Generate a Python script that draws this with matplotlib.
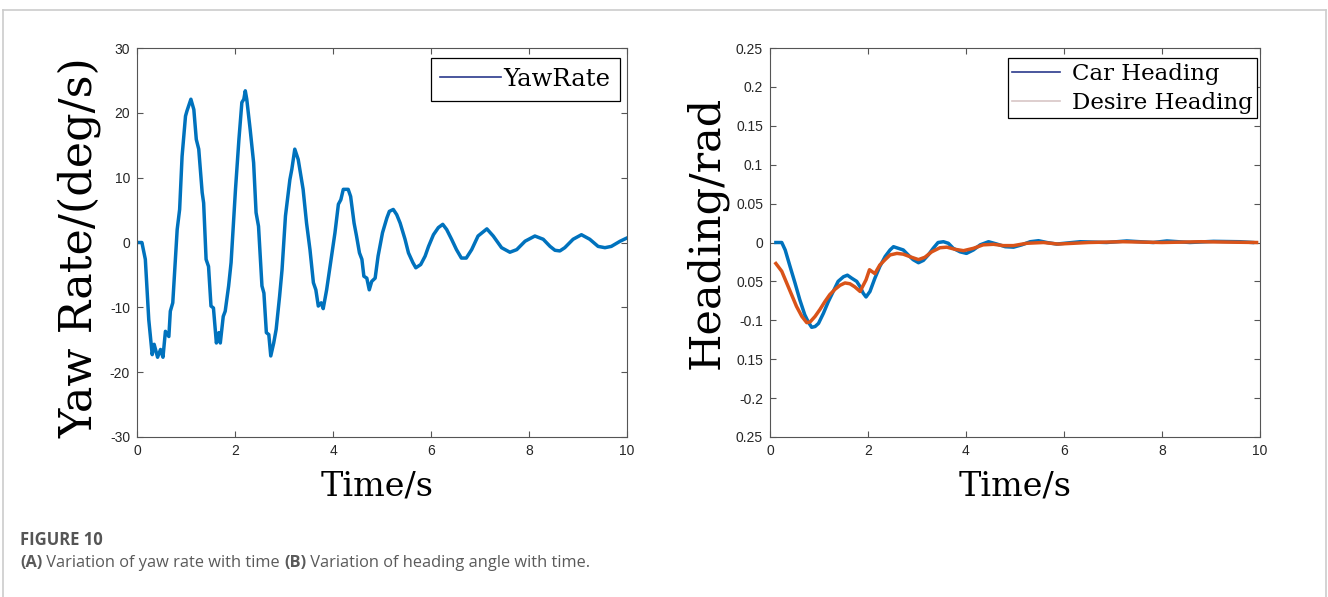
import matplotlib
matplotlib.use("Agg")
import matplotlib.pyplot as plt
from matplotlib.lines import Line2D

plt.rcParams['axes.unicode_minus'] = False

# (A) yaw rate
yaw_t = [0, 0.1, 0.14, 0.17, 0.24, 0.31, 0.35, 0.42, 0.48, 0.53, 0.58, 0.65, 0.68, 0.73,
         0.82, 0.87, 0.92, 0.99, 1.02, 1.10, 1.16, 1.21, 1.26, 1.33, 1.36, 1.41, 1.46, 1.51,
         1.56, 1.62, 1.67, 1.70, 1.76, 1.80, 1.87, 1.92, 2.01, 2.08, 2.14, 2.18, 2.21, 2.24,
         2.31, 2.38, 2.43, 2.48, 2.55, 2.59, 2.64, 2.69, 2.73, 2.79, 2.84, 2.91, 2.96, 3.03,
         3.12, 3.16, 3.22, 3.29, 3.39, 3.46, 3.53, 3.60, 3.65, 3.70, 3.76, 3.80, 3.87, 3.94,
         4.04, 4.11, 4.16, 4.21, 4.31, 4.36, 4.43, 4.48, 4.54, 4.59, 4.63, 4.69, 4.74, 4.79,
         4.86, 4.92, 5.01, 5.10, 5.15, 5.23, 5.30, 5.37, 5.47, 5.54, 5.63, 5.69, 5.79, 5.88,
         5.95, 6.05, 6.15, 6.24, 6.32, 6.42, 6.52, 6.62, 6.72, 6.83, 6.96, 7.14, 7.27, 7.44,
         7.61, 7.75, 7.92, 8.12, 8.29, 8.43, 8.53, 8.63, 8.73, 8.90, 9.07, 9.24, 9.41, 9.55,
         9.68, 9.86, 10.0]
yaw_rate = [0, 0, -1.5, -2.6, -11.9, -17.3, -15.7, -17.7, -16.5, -17.7, -13.7, -14.5, -10.6, -9.3,
            2.0, 5.1, 13.3, 19.5, 20.3, 22.1, 20.5, 15.9, 14.4, 7.7, 6.1, -2.6, -3.7, -9.8,
            -10.1, -15.5, -13.9, -15.5, -11.4, -10.6, -6.7, -3.1, 8.2, 15.9, 21.6, 22.1, 23.4, 22.1,
            17.4, 12.3, 4.6, 2.5, -6.7, -7.8, -13.9, -14.2, -17.5, -15.5, -13.4, -8.3, -4.2, 4.1,
            9.7, 11.3, 14.4, 12.8, 8.2, 3.0, -1.1, -6.2, -7.3, -9.8, -9.3, -10.2, -7.3, -3.7,
            1.5, 5.9, 6.6, 8.2, 8.2, 7.1, 3.0, 1.0, -1.6, -2.6, -5.2, -5.5, -7.3, -6.0,
            -5.5, -2.1, 1.5, 3.8, 4.8, 5.1, 4.3, 3.0, 0.5, -1.6, -3.1, -3.9, -3.4, -2.1,
            -0.6, 1.2, 2.3, 2.8, 2.0, 0.5, -1.1, -2.4, -2.4, -1.1, 1.0, 2.1, 1.0, -0.8,
            -1.5, -1.1, 0.2, 1.0, 0.5, -0.6, -1.2, -1.3, -0.8, 0.5, 1.2, 0.5, -0.6, -0.8,
            -0.6, 0.2, 0.7]

# (B) heading
car_t = [0.12, 0.24, 0.31, 0.41, 0.51, 0.61, 0.71, 0.78, 0.85, 0.92, 0.99, 1.09, 1.19, 1.29,
         1.39, 1.50, 1.58, 1.67, 1.77, 1.84, 1.90, 1.96, 2.04, 2.14, 2.24, 2.35, 2.45, 2.52,
         2.62, 2.72, 2.82, 2.92, 3.03, 3.13, 3.23, 3.33, 3.43, 3.54, 3.64, 3.74, 3.88, 4.01,
         4.15, 4.29, 4.46, 4.63, 4.80, 4.97, 5.14, 5.31, 5.48, 5.65, 5.85, 6.33, 6.87, 7.28,
         7.82, 8.10, 8.57, 9.05, 9.59, 9.85]
car_heading = [0.0, 0.0, -0.0096, -0.031, -0.052, -0.074, -0.093, -0.102, -0.109, -0.108, -0.104,
               -0.091, -0.076, -0.063, -0.050, -0.044, -0.042, -0.046, -0.050, -0.057, -0.065,
               -0.070, -0.063, -0.046, -0.031, -0.018, -0.0096, -0.0054, -0.0075, -0.0096, -0.016,
               -0.022, -0.026, -0.023, -0.016, -0.0075, 0.0, 0.001, -0.001, -0.0075, -0.012,
               -0.014, -0.0096, -0.003, 0.001, -0.002, -0.0054, -0.006, -0.003, 0.001, 0.0023,
               0.0, -0.002, 0.001, 0.0, 0.002, 0.0, 0.002, 0.0, 0.0015, 0.001, 0.0]
desire_t = [0.12, 0.24, 0.34, 0.44, 0.54, 0.65, 0.75, 0.82, 0.92, 1.02, 1.12, 1.22, 1.33, 1.43,
            1.53, 1.63, 1.73, 1.84, 1.87, 1.96, 2.03, 2.14, 2.24, 2.35, 2.45, 2.59, 2.72, 2.89,
            3.03, 3.16, 3.30, 3.47, 3.61, 3.78, 3.95, 4.15, 4.35, 4.56, 4.76, 4.97, 5.24, 5.58,
            5.88, 6.5, 7.2, 8.0, 8.8, 9.93]
desire_heading = [-0.027, -0.037, -0.052, -0.067, -0.082, -0.095, -0.103, -0.102, -0.095, -0.086,
                  -0.076, -0.067, -0.060, -0.055, -0.052, -0.053, -0.057, -0.063, -0.059, -0.048,
                  -0.035, -0.040, -0.029, -0.022, -0.016, -0.014, -0.015, -0.019, -0.022, -0.019,
                  -0.012, -0.0067, -0.006, -0.0088, -0.0105, -0.0075, -0.003, -0.0023, -0.004,
                  -0.004, -0.001, 0.0, -0.002, 0.0, 0.001, 0.0, 0.001, 0.0]

x_ticks = [0, 2, 4, 6, 8, 10]
yaw_ticks = [-30, -20, -10, 0, 10, 20, 30]
head_ticks = [-0.25, -0.2, -0.15, -0.1, -0.05, 0, 0.05, 0.1, 0.15, 0.2, 0.25]
head_tick_labels = ['0.25', '-0.2', '0.15', '-0.1', '0.05', '0', '0.05', '0.1', '0.15', '0.2', '0.25']

BLUE = '#0072BD'
ORANGE = '#D95319'
serif = 'DejaVu Serif'

fig = plt.figure(figsize=(13.28, 5.97), dpi=100)


def style_axes(ax):
    for s in ax.spines.values():
        s.set_color('#555555')
        s.set_linewidth(0.8)
    ax.tick_params(direction='in', length=4, width=0.8, color='#555555',
                   top=True, right=True, labelsize=10, labelcolor='#262626', pad=5)
    for lab in ax.get_xticklabels() + ax.get_yticklabels():
        lab.set_family('Liberation Sans')


# left panel
ax1 = fig.add_axes([137 / 1328, 160 / 597, 490 / 1328, 389 / 597])
ax1.plot(yaw_t, yaw_rate, color=BLUE, lw=2.5)
ax1.set_xlim(0, 10)
ax1.set_ylim(-30, 30)
ax1.set_xticks(x_ticks)
ax1.set_yticks(yaw_ticks)
style_axes(ax1)
ax1.set_xlabel('Time/s', family=serif, fontsize=24)
ax1.xaxis.set_label_coords(0.49, -0.085)
ax1.set_ylabel('Yaw Rate/(deg/s)', family=serif, fontsize=32)
ax1.yaxis.set_label_coords(-0.073, 0.488)
h1 = [Line2D([], [], color='#2b3a8c', lw=1.2)]
leg1 = ax1.legend(h1, ['YawRate'], loc='upper right', bbox_to_anchor=(0.986, 0.974),
                  prop={'family': serif, 'size': 17.5}, fancybox=False, edgecolor='black',
                  framealpha=1, borderaxespad=0, borderpad=0.4, handlelength=2.5,
                  handletextpad=0.1)
leg1.get_frame().set_linewidth(0.9)

# right panel
ax2 = fig.add_axes([770 / 1328, 160 / 597, 490 / 1328, 389 / 597])
ax2.plot(car_t, car_heading, color=BLUE, lw=2.5)
ax2.plot(desire_t, desire_heading, color=ORANGE, lw=2.5)
ax2.set_xlim(0, 10)
ax2.set_ylim(-0.25, 0.25)
ax2.set_xticks(x_ticks)
ax2.set_yticks(head_ticks)
ax2.set_yticklabels(head_tick_labels)
style_axes(ax2)
ax2.set_xlabel('Time/s', family=serif, fontsize=24)
ax2.xaxis.set_label_coords(0.5, -0.085)
ax2.set_ylabel('Heading/rad', family=serif, fontsize=31)
ax2.yaxis.set_label_coords(-0.086, 0.525)
h2 = [Line2D([], [], color='#2b3a8c', lw=1.2), Line2D([], [], color='#d8c6c6', lw=1.2)]
leg2 = ax2.legend(h2, ['Car Heading', 'Desire Heading'], loc='upper right',
                  bbox_to_anchor=(0.994, 0.974), prop={'family': serif, 'size': 16.5},
                  fancybox=False, edgecolor='black', framealpha=1, borderaxespad=0,
                  borderpad=0.2, handlelength=2.1, handletextpad=0.5,
                  labelspacing=0.3)
leg2.get_frame().set_linewidth(0.9)

# outer frame
for xs, ys in [([2.5, 1325.5], [587.5, 587.5]), ([2.5, 2.5], [0, 587.5]),
               ([1325.5, 1325.5], [0, 587.5])]:
    fig.add_artist(Line2D([x / 1328 for x in xs], [y / 597 for y in ys],
                          color='#cccccc', lw=1.2))

# caption
cap_font = 'Open Sans'
fig.text(20 / 1328, 1 - 545 / 597, 'FIGURE 10', family=cap_font, fontsize=12,
         weight='bold', color='#555555', va='baseline')
renderer = fig.canvas.get_renderer()
x = 20 / 1328
for txt, wt in [('(A)', 'bold'), (' Variation of yaw rate with time ', 'normal'),
                ('(B)', 'bold'), (' Variation of heading angle with time.', 'normal')]:
    t = fig.text(x, 1 - 567 / 597, txt, family=cap_font, fontsize=11.8, weight=wt,
                 color='#5a5a5a', va='baseline')
    bb = t.get_window_extent(renderer)
    x = x + bb.width / fig.bbox.width

fig.savefig('out.png', dpi=100)
